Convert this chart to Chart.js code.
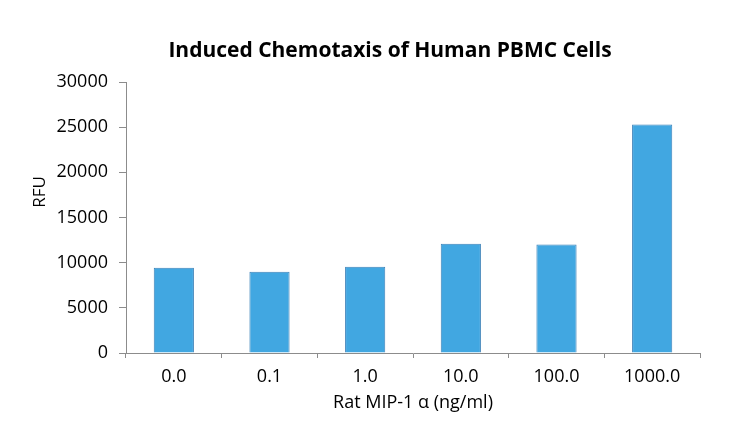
<!DOCTYPE html>
<html lang="en">
<head>
    <meta charset="UTF-8">
    <title>Induced Chemotaxis of Human PBMC Cells</title>
    <style>
        body, html {
            margin: 0;
            padding: 0;
            background-color: #ffffff;
        }
        .chart-box {
            width: 754px;
            height: 444px;
        }
    </style>
</head>
<body>
    <div class="chart-box">
        <canvas id="chemotaxisChart" width="754" height="444"></canvas>
    </div>

    <script src="https://cdn.jsdelivr.net/npm/chart.js"></script>
    <script>
        const doses = ['0.0', '0.1', '1.0', '10.0', '100.0', '1000.0'];
        const rfuValues = [9450, 9000, 9550, 12100, 12000, 25300];
        const yTicks = [0, 5000, 10000, 15000, 20000, 25000, 30000];

        const chartTitle = 'Induced Chemotaxis of Human PBMC Cells';
        const yTitle = 'RFU';
        const xTitle = 'Rat MIP-1 \u03b1 (ng/ml)';

        const axisGrey = '#8c8c8c';
        const textFont = "'Open Sans', sans-serif";

        // title and y label sit off-centre in the original, so draw them by hand
        const extraText = {
            id: 'extraText',
            afterDraw(chart) {
                const ctx = chart.ctx;
                ctx.save();
                ctx.fillStyle = '#000000';
                ctx.textAlign = 'center';
                ctx.textBaseline = 'middle';
                ctx.font = "bold 21px " + textFont;
                ctx.fillText(chartTitle, 390, 51);

                ctx.font = "17px " + textFont;
                ctx.translate(40, 192);
                ctx.rotate(-Math.PI / 2);
                ctx.fillText(yTitle, 0, 0);
                ctx.restore();
            }
        };

        new Chart(document.getElementById('chemotaxisChart').getContext('2d'), {
            type: 'bar',
            data: {
                labels: doses,
                datasets: [{
                    label: yTitle,
                    data: rfuValues,
                    backgroundColor: '#41a7e1',
                    borderColor: '#3a80b8',
                    borderWidth: 1,
                    categoryPercentage: 1.0,
                    barPercentage: 0.42
                }]
            },
            options: {
                responsive: false,
                animation: false,
                layout: {
                    padding: { left: 0, right: 54, top: 82, bottom: 0 }
                },
                plugins: {
                    legend: { display: false },
                    title: { display: false },
                    tooltip: { enabled: false }
                },
                scales: {
                    x: {
                        afterFit(scale) { scale.height = 91; },
                        grid: {
                            offset: true,
                            drawOnChartArea: false,
                            drawTicks: true,
                            tickLength: 5,
                            color: axisGrey
                        },
                        border: { display: true, color: axisGrey, width: 1 },
                        ticks: {
                            color: '#000000',
                            padding: 8,
                            font: { family: textFont, size: 18 }
                        },
                        title: {
                            display: true,
                            text: xTitle,
                            color: '#000000',
                            font: { family: textFont, size: 18 },
                            padding: { top: 0, bottom: 30 }
                        }
                    },
                    y: {
                        min: 0,
                        max: 30000,
                        afterFit(scale) { scale.width = 126; },
                        afterBuildTicks(scale) {
                            scale.ticks = yTicks.map(v => ({ value: v }));
                        },
                        grid: {
                            drawOnChartArea: false,
                            drawTicks: true,
                            tickLength: 7,
                            color: axisGrey
                        },
                        border: { display: true, color: axisGrey, width: 1 },
                        ticks: {
                            color: '#000000',
                            padding: 11,
                            font: { family: textFont, size: 18 },
                            callback: v => String(v)
                        }
                    }
                }
            },
            plugins: [extraText]
        });
    </script>
</body>
</html>
